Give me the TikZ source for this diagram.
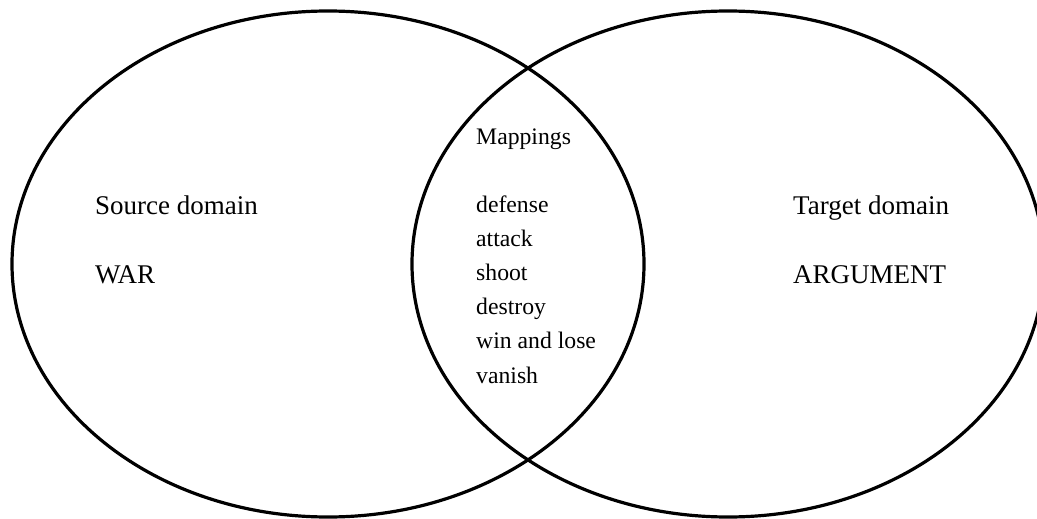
\documentclass[tikz,border=0pt]{standalone}
\usepackage{fontspec}
\setmainfont{Liberation Serif}
\usepackage{tikz}
\usetikzlibrary{positioning}
\tikzset{
  domainring/.style = {draw=black, line width=3.2pt},
  sidetext/.style = {anchor=base west, inner sep=0pt,
    font=\fontsize{27}{30}\selectfont},% texte des domaines
  maptext/.style = {anchor=base west, inner sep=0pt,
    font=\fontsize{23.7}{27}\selectfont}% texte des correspondances
}
\begin{document}
\begin{tikzpicture}[x=1pt,y=-1pt]
        \useasboundingbox (0,0) rectangle (1037,519);
        \draw [domainring] (328,264) ellipse [x radius=316, y radius=253];
        \draw [domainring] (728,264) ellipse [x radius=316, y radius=253];
        \node [sidetext] (src) at (95,214) {Source domain};
        \node [sidetext] (srcname) at (95,283) {WAR};
        \node [sidetext] (tgt) at (793,214) {Target domain};
        \node [sidetext] (tgtname) at (793,283) {ARGUMENT};
        \node [maptext] (map) at (476,144) {Mappings};
        \foreach \w [count=\i] in {defense,attack,shoot,destroy,win and lose,vanish}
            \node [maptext] (m\i) at (476,212+34.2*\i-34.2) {\w};
\end{tikzpicture}
\end{document}
